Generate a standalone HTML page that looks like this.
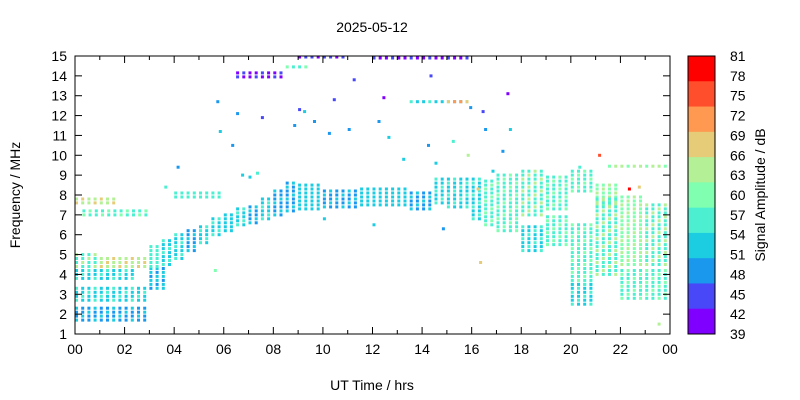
<!DOCTYPE html>
<html><head><meta charset="utf-8"><style>
html,body{margin:0;padding:0;background:#fff;}
svg{display:block;font-family:"Liberation Sans",sans-serif;}
</style></head><body>
<svg id="chart" width="800" height="400" viewBox="0 0 800 400" xmlns="http://www.w3.org/2000/svg">
<text x="372" y="32" font-size="14" text-anchor="middle">2025-05-12</text>
<g id="marks"></g>
<rect x="75" y="56" width="595" height="278" fill="none" stroke="#000" stroke-width="1"/>
<g id="axes"></g>
<text x="372" y="390" font-size="14" text-anchor="middle">UT Time / hrs</text>
<text transform="translate(20,195) rotate(-90)" font-size="14" text-anchor="middle">Frequency / MHz</text>
<g id="cbar"></g>
<text transform="translate(765,195) rotate(-90)" font-size="14" text-anchor="middle">Signal Amplitude / dB</text>
</svg>
<script>
const xTickLabels=["00","02","04","06","08","10","12","14","16","18","20","22","00"];
const yTicks=[1,2,3,4,5,6,7,8,9,10,11,12,13,14,15];
const cbarLabels=[81,78,75,72,69,66,63,60,57,54,51,48,45,42,39];
const cbarColors=["#ff0000","#ff4e2c","#ff9850","#e6cc78","#b4f096","#80ffb0","#4cf0d0","#1ccce0","#1a98ee","#4848f8","#8000ff"];
// blocks: [tStart, tEnd, fLow, fHigh, amplitude dB, secondary amplitude dB]
const blockT0=[0,0,0,0,1,0,0.3,3,3,3.5,4,4.5,5,5.5,4,6,6.5,7,7.5,8,8.5,9,10,11.5,13.5,14.5,15,16,16.5,17,18,19,20,21,18,19,20,21,22,23,22,20,21.5,13.5,15,12,6.5,8.5,9];
const blockT1=[3,3,2.5,1,3,1.6,3,3.6,3.5,4,4.5,5,5.5,6,5.9,6.5,7,7.5,8,8.5,9,10,11.5,13.5,14.5,15,16,16.5,17,18,19,20,21,22,19,20,21,22,23,24,24,21,24,16,16,16,8.5,9.5,11];
const blockF0=[1.7,2.7,3.8,4.4,4.4,7.6,7.0,3.3,4.4,4.5,4.8,5.2,5.6,6.0,7.9,6.2,6.5,6.6,6.8,7.0,7.2,7.3,7.4,7.5,7.3,7.6,7.4,6.8,6.5,6.2,7.0,7.3,8.2,7.5,5.2,5.5,3.5,4.0,4.5,4.5,2.8,2.5,9.45,12.7,12.7,14.9,13.95,14.45,14.95];
const blockF1=[2.3,3.4,4.2,5.0,4.8,7.8,7.3,4.3,5.5,5.8,6.0,6.2,6.5,6.8,8.1,7.0,7.3,7.5,7.8,8.2,8.7,8.5,8.3,8.3,8.1,8.8,8.8,8.8,8.8,9.0,9.2,9.0,9.3,8.5,6.5,7.0,6.5,7.8,8.0,7.5,4.2,3.5,9.6,12.8,12.8,15.0,14.2,14.6,15.0];
const blockAmp=[50,52,52,58,62,62,57,53,55,52,52,50,52,53,55,54,52,50,52,50,50,51,50,51,50,52,52,53,55,56,58,57,55,60,53,56,55,58,60,58,55,52,62,53,70,42,42,58,45];
const blockAmp2=[53,56,57,62,66,66,60,50,58,57,55,54,56,57,57,51,56,54,55,53,54,54,53,54,54,55,56,57,59,60,62,61,60,64,57,60,59,62,63,62,59,56,60,57,66,45,45,60,42];
// scattered points
const ptT=[5.7,5.8,6.3,6.5,7.5,8.8,9.2,9.6,10.2,10.4,11.2,11.0,12.2,12.4,12.6,13.2,14.2,14.5,15.2,16.2,16.5,16.8,17.2,17.4,16.3,15.8,14.8,14.3,12.0,10.0,9.0,7.0,3.6,4.1,5.6,6.7,7.3,21.1,22.3,22.7,16.4,15.9,17.5,20.3,23.5];
const ptF=[12.7,11.2,10.5,12.1,11.9,11.5,12.2,11.7,11.1,12.8,13.8,11.3,11.7,12.9,10.9,9.8,10.5,9.6,10.7,8.3,11.3,9.2,10.2,13.1,4.6,10.0,6.3,14.0,6.5,6.8,12.3,8.9,8.4,9.4,4.2,9.0,9.1,10.0,8.3,8.4,12.2,12.4,11.3,9.4,1.5];
const ptAmp=[48,51,50,48,46,50,52,48,50,44,46,50,48,42,52,51,50,54,56,66,48,54,50,42,66,63,48,44,51,51,46,51,57,50,60,51,57,75,78,66,45,48,51,57,63];

const X0=75,X1=670,Y0=334,Y1=56;
const xs=t=>X0+t/24*(X1-X0);
const ys=f=>Y0-(f-1)/14*(Y0-Y1);
const col=a=>{let i=Math.floor((81-a)/(42/11));i=Math.max(0,Math.min(10,i));return cbarColors[i];};
const NS="http://www.w3.org/2000/svg";
const mk=(tag,at,parent)=>{const e=document.createElementNS(NS,tag);for(const k in at)e.setAttribute(k,at[k]);parent.appendChild(e);return e;};
const marks=document.getElementById('marks');
for(let b=0;b<blockT0.length;b++){
  let ci=0;
  for(let t=blockT0[b];t<blockT1[b]-0.01;t+=0.25){
    let ri=0;
    for(let f=blockF0[b];f<=blockF1[b]+0.01;f+=0.2){
      const a=((ri+ci*2)%3===0)?blockAmp2[b]:blockAmp[b];
      const r=mk('rect',{x:xs(t).toFixed(1),y:(ys(f)-1.5).toFixed(1),width:3,height:3,fill:col(a)},marks);
      
      
      ri++;
    }
    ci++;
  }
}
for(let i=0;i<ptT.length;i++){
  const r=mk('rect',{x:xs(ptT[i]).toFixed(1),y:(ys(ptF[i])-1.5).toFixed(1),width:3,height:3,fill:col(ptAmp[i])},marks);
  
  
}
const axes=document.getElementById('axes');
for(let h=0;h<=24;h++){
  const x=xs(h),L=h%2===0?7:4;
  mk('line',{x1:x,y1:Y0,x2:x,y2:Y0-L,stroke:'#000'},axes);
  mk('line',{x1:x,y1:Y1,x2:x,y2:Y1+L,stroke:'#000'},axes);
  if(h%2===0){
    const tx=mk('text',{x:x,y:Y0+20,'font-size':14,'text-anchor':'middle'},axes);
    tx.textContent=xTickLabels[h/2];
    
    
  }
}
yTicks.forEach(v=>{
  const y=ys(v);
  mk('line',{x1:X0,y1:y,x2:X0+7,y2:y,stroke:'#000'},axes);
  mk('line',{x1:X1,y1:y,x2:X1-7,y2:y,stroke:'#000'},axes);
  const tx=mk('text',{x:X0-8,y:y+5,'font-size':14,'text-anchor':'end'},axes);
  tx.textContent=v;
  
  
});
const cb=document.getElementById('cbar');
const bh=(Y0-Y1)/cbarColors.length;
cbarColors.forEach((c,i)=>{
  const r=mk('rect',{x:688,y:Y1+i*bh,width:27,height:bh+0.5,fill:c},cb);
  
  
});
mk('rect',{x:688,y:Y1,width:27,height:Y0-Y1,fill:'none',stroke:'#000'},cb);
cbarLabels.forEach((v,i)=>{
  const tx=mk('text',{x:730,y:Y1+i*(Y0-Y1)/14+5,'font-size':14},cb);
  tx.textContent=v;
  
  
});
</script>
</body></html>
